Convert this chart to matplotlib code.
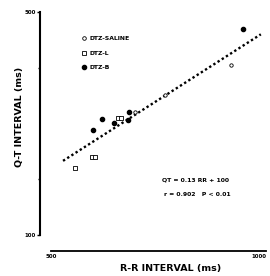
import matplotlib
matplotlib.use("Agg")
import matplotlib.pyplot as plt
from matplotlib.lines import Line2D

# data (RR in ms, QT in ms)
saline_rr = [695, 765, 919]
saline_qt = [321, 351, 405]

l_rr = [556, 595, 602, 656, 663]
l_qt = [220, 240, 240, 310, 310]

b_rr = [598, 619, 647, 679, 681, 947]
b_qt = [288, 308, 301, 306, 321, 470]

# regression line end points
fit_rr = [528, 988]
fit_qt = [233, 460]

x_ticks = [500, 1000]
x_labels = ["500", "1000"]
y_ticks = [100, 500]
y_labels = ["100", "500"]
y_minor = [200, 400]

plt.rcParams["font.family"] = ["DejaVu Sans"]
plt.rcParams["font.weight"] = "bold"

fig = plt.figure(figsize=(2.7, 2.76), dpi=100)
ax = fig.add_axes([51 / 270, 41 / 276, 215 / 270, 223 / 276])

ax.plot(fit_rr, fit_qt, linestyle=(0, (1, 1.1)), color="black", linewidth=1.7)

ax.scatter(saline_rr, saline_qt, s=6, facecolors="white", edgecolors="black", linewidths=0.6, zorder=3)
ax.scatter(l_rr, l_qt, s=8, marker="s", facecolors="white", edgecolors="black", linewidths=0.6, zorder=3)
ax.scatter(b_rr, b_qt, s=9, color="black", zorder=3)

ax.set_xlim(500, 1000)
ax.set_ylim(100, 500)

for s in ["top", "right"]:
    ax.spines[s].set_visible(False)
ax.spines["left"].set_position(("outward", 8))
ax.spines["bottom"].set_position(("outward", 11.5))
ax.spines["left"].set_linewidth(1.5)
ax.spines["bottom"].set_linewidth(1.3)

ax.set_xticks(x_ticks)
ax.set_xticklabels(x_labels, fontsize=4, fontweight="bold")
ax.get_xticklabels()[1].set_ha("right")
ax.set_yticks(y_ticks)
ax.set_yticklabels(y_labels, fontsize=4, fontweight="bold")
ax.set_yticks(y_minor, minor=True)
ax.tick_params(axis="x", length=0, pad=2)
ax.tick_params(axis="y", which="major", length=2, width=1, pad=1)
ax.tick_params(axis="y", which="minor", length=1.5, width=1)

fig.text(171 / 270, 1 - 269 / 276, "R-R INTERVAL (ms)", fontsize=6.8, fontweight="bold",
         ha="center", va="center")
fig.text(20 / 270, 1 - 117 / 276, "Q-T INTERVAL (ms)", fontsize=6.8, fontweight="bold",
         ha="center", va="center", rotation=90)

handles = [
    Line2D([], [], marker="o", linestyle="", markersize=2.6, markerfacecolor="white",
           markeredgecolor="black", markeredgewidth=0.6),
    Line2D([], [], marker="s", linestyle="", markersize=2.8, markerfacecolor="white",
           markeredgecolor="black", markeredgewidth=0.6),
    Line2D([], [], marker="o", linestyle="", markersize=3, color="black"),
]
ax.legend(handles, ["DTZ-SALINE", "DTZ-L", "DTZ-B"], loc="upper left",
          bbox_to_anchor=(79 / 270, 1 - 33 / 276), bbox_transform=fig.transFigure,
          frameon=False, prop={"weight": "bold", "size": 4.4},
          handlelength=0.6, handletextpad=0.6, labelspacing=1.5, borderpad=0)

fig.text(196 / 270, 1 - 180 / 276, "QT = 0.13 RR + 100", fontsize=4.4, fontweight="bold",
         ha="center", va="center")
fig.text(197 / 270, 1 - 194 / 276, "r = 0.902   P < 0.01", fontsize=4.4, fontweight="bold",
         ha="center", va="center")

fig.savefig("out.png", dpi=100)
